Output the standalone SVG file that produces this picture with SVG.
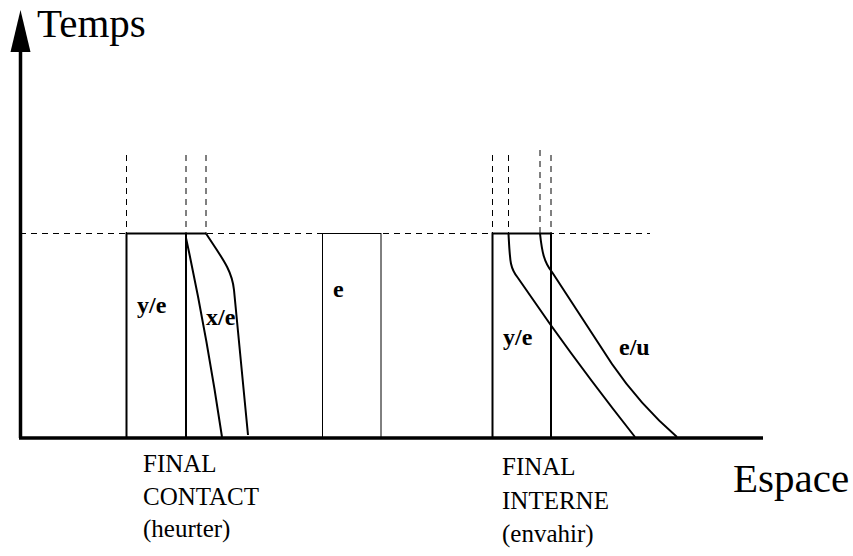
<svg xmlns="http://www.w3.org/2000/svg" width="853" height="556" viewBox="0 0 853 556">
<style>
.ax{stroke:#000;stroke-width:3.5;fill:none}
.dash{stroke:#000;stroke-width:1;stroke-dasharray:6,5;fill:none}
.box{stroke:#000;stroke-width:2;fill:none}
.thin{stroke:#000;stroke-width:1;fill:none}
.cv{stroke:#000;stroke-width:2;fill:none}
text{font-family:"Liberation Serif","Times New Roman",serif;fill:#000}
.big{font-size:41px}
.lab{font-size:24px;font-weight:bold}
.cap{font-size:25px}
</style>
<rect width="853" height="556" fill="#fff"/>
<g id="axes">
<line class="ax" x1="20.5" y1="438" x2="20.5" y2="48"/>
<polygon points="20.5,10 10.5,52 30.5,52" fill="#000"/>
<line class="ax" x1="19" y1="438" x2="763" y2="438"/>
<text class="big" x="37" y="37">Temps</text>
<text class="big" x="733" y="492">Espace</text>
</g>
<g id="guides">
<line class="dash" x1="20" y1="233.5" x2="650" y2="233.5"/>
<line class="dash" x1="126.5" y1="155" x2="126.5" y2="233"/>
<line class="dash" x1="186" y1="155" x2="186" y2="233"/>
<line class="dash" x1="206" y1="155" x2="206" y2="233"/>
<line class="dash" x1="492.5" y1="155" x2="492.5" y2="233"/>
<line class="dash" x1="508.5" y1="155" x2="508.5" y2="233"/>
<line class="dash" x1="540" y1="150" x2="540" y2="233"/>
<line class="dash" x1="551" y1="155" x2="551" y2="233"/>
</g>
<g id="contact">
<path class="box" d="M126.5,438 V233.5 H206 M186,233.5 V438"/>
<path class="cv" d="M186,238 Q 206,330 222,437"/>
<path class="cv" d="M206,233.5 C 222,258 232,270 234,290 L 248,435"/>
<text class="lab" x="137" y="313">y/e</text>
<text class="lab" x="206" y="325">x/e</text>
</g>
<g id="neutral">
<rect class="thin" x="322.5" y="233.5" width="58.5" height="204.5"/>
<text class="lab" x="333" y="297">e</text>
</g>
<g id="interne">
<path class="box" d="M492.5,438 V233.5 H551 V438"/>
<path class="cv" d="M508.5,233.5 C 510,262 510,268 518,278 L 550,324 Q 590,380 635,437"/>
<path class="cv" d="M540,233.5 C 542,252 544,262 552,272 Q 590,330 612,364 Q 640,405 677,437"/>
<text class="lab" x="503" y="345">y/e</text>
<text class="lab" x="619" y="355">e/u</text>
</g>
<g id="captions">
<text class="cap" x="143" y="472">FINAL</text>
<text class="cap" x="143" y="505">CONTACT</text>
<text class="cap" x="143" y="537">(heurter)</text>
<text class="cap" x="502" y="475">FINAL</text>
<text class="cap" x="502" y="509">INTERNE</text>
<text class="cap" x="502" y="542">(envahir)</text>
</g>
</svg>
